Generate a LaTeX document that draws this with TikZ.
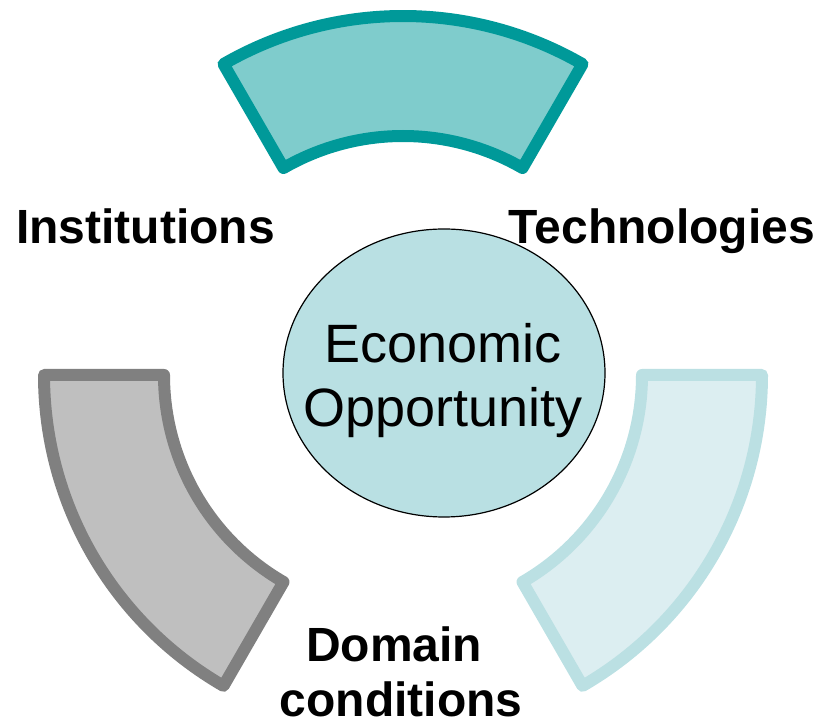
\documentclass[tikz,border=0pt]{standalone}
\usepackage{fontspec}
\setmainfont{Liberation Sans}

\definecolor{segteal}{HTML}{009999}
\definecolor{segtealfill}{HTML}{7FCCCC}
\definecolor{seggrey}{HTML}{808080}
\definecolor{seggreyfill}{HTML}{BFBFBF}
\definecolor{segpale}{HTML}{BBE0E3}
\definecolor{segpalefill}{HTML}{DCEEF1}
\definecolor{corefill}{HTML}{B9E0E3}

\begin{document}
\begin{tikzpicture}[
    x=1pt, y=1pt,
    seg/.style={line width=12pt, line join=round},
    core/.style={draw, line width=1.2pt, fill=corefill},
    coretxt/.style={font=\fontsize{54}{64}\selectfont, align=center, inner sep=0pt},
    lbl/.style={font=\fontsize{48}{55}\selectfont\bfseries, align=center, inner sep=0pt}
]
\useasboundingbox (0,0) rectangle (822,726);

% three ring segments around the hub
\begin{scope}[shift={(403,351)}]
\foreach \a/\dc/\fc in {60/segteal/segtealfill, 180/seggrey/seggreyfill, 300/segpale/segpalefill}
  \draw[seg, draw=\dc, fill=\fc] (\a:359) arc[start angle=\a, delta angle=60, radius=359]
        -- (\a+60:239) arc[start angle=\a+60, delta angle=-60, radius=239] -- cycle;
\end{scope}

% centre oval
\coordinate (core) at (444,353);
\draw[core] (core) ellipse[x radius=161, y radius=144];
\node[coretxt] (coretext) at (443,345) {Economic\\Opportunity};

\node[lbl, anchor=base west] (inst) at (16,482) {Institutions};
\node[lbl, anchor=base east] (tech) at (815,482) {Technologies};
\node[lbl] (domain) at (401,54) {Domain\hspace*{0.28em}\\conditions};
\end{tikzpicture}
\end{document}
